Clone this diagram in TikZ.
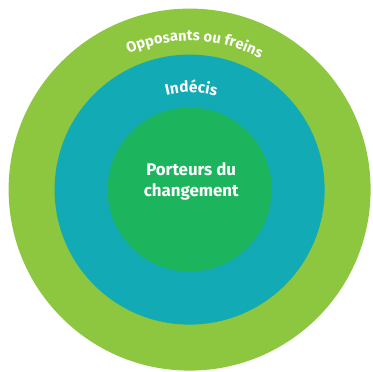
\documentclass[tikz,border=0pt]{standalone}
\usepackage{fontspec}
\setmainfont{Fira Sans}
\usepackage{xcolor}
\usepackage{tikz}
\usetikzlibrary{positioning,decorations.text}
\definecolor{limegreen}{HTML}{8DC63F}
\definecolor{tealblue}{HTML}{12AAB5}
\definecolor{coregreen}{HTML}{1DB45E}
\tikzset{
    ring/.style={circle, inner sep=0pt, draw=none},
    label text/.style={text=white, font=\bfseries\fontsize{12}{15}\selectfont, align=center}
}

\begin{document}
\begin{tikzpicture}
    \useasboundingbox (0,0) rectangle (9.3,9.3);
    \coordinate (c) at (4.74,4.56);

    % Rings
    \node[ring, fill=limegreen, minimum size=9.05cm] (outer) at (c) {};
    \node[ring, fill=tealblue, minimum size=6.75cm] (middle) at (c) {};
    \node[ring, fill=coregreen, minimum size=4.1cm] (inner) at (c) {};

    % Labels
    \path[decorate, decoration={text along path, text align=center,
        text={|\color{white}\bfseries\fontsize{10.5}{14}\selectfont|Opposants ou freins}}]
        (c) ++(126:3.72) arc (126:50:3.72);
    \path[decorate, decoration={text along path, text align=center,
        text={|\color{white}\bfseries\fontsize{11}{15}\selectfont|Indécis}}]
        (c) ++(105:2.43) arc (105:73:2.43);
    \node[label text] (core) at (4.78,4.76) {Porteurs du\\changement};
\end{tikzpicture}
\end{document}
